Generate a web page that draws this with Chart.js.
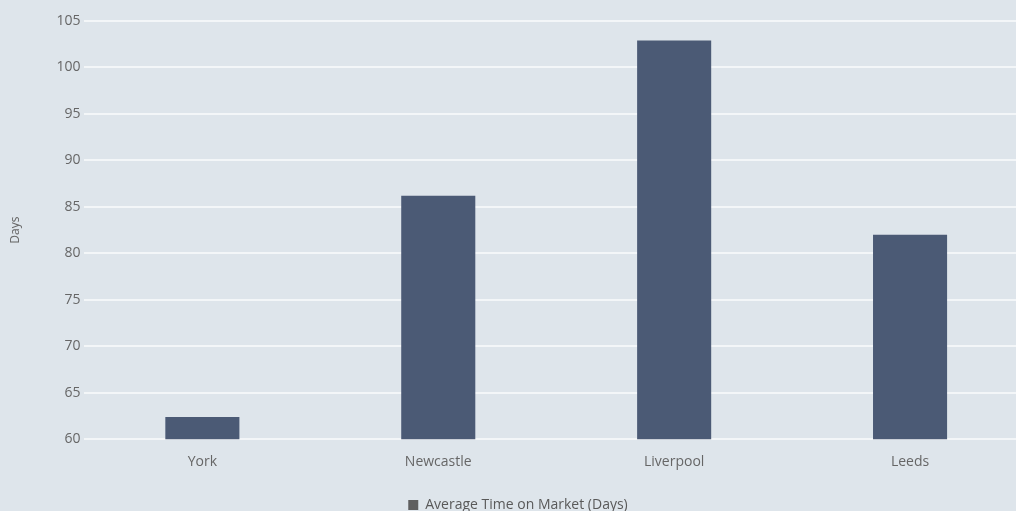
<!DOCTYPE html>
<html>
<head>
<meta charset="utf-8">
<script src="https://cdn.jsdelivr.net/npm/chart.js@4/dist/chart.umd.min.js"></script>
<style>
  html, body { margin: 0; padding: 0; background: #dee5eb; overflow: hidden; }
  #wrap { width: 1030px; height: 522px; }
</style>
</head>
<body>
<div id="wrap"><canvas id="marketChart" width="1030" height="522"></canvas></div>
<script>
// Dữ liệu biểu đồ
var cities = ["York", "Newcastle", "Liverpool", "Leeds"];
var avgDays = [62.4, 86.2, 102.9, 82.0];
var seriesName = "Average Time on Market (Days)";
var yTitle = "Days";

var ctx = document.getElementById("marketChart").getContext("2d");
Chart.defaults.font.family = "'Open Sans', sans-serif";
Chart.defaults.color = "#666666";

var myChart = new Chart(ctx, {
    type: "bar",
    data: {
        labels: cities,
        datasets: [{
            label: seriesName,
            data: avgDays,
            backgroundColor: "#4b5a75",
            borderWidth: 0,
            categoryPercentage: 1,
            barPercentage: 0.314
        }]
    },
    options: {
        responsive: false,
        animation: false,
        layout: { padding: { top: 21, right: 2, left: 8, bottom: 0 } },
        plugins: {
            legend: {
                position: "bottom",
                labels: {
                    boxWidth: 10,
                    boxHeight: 10,
                    padding: 6,
                    font: { size: 14 },
                    color: "#595959",
                    generateLabels: function (chart) {
                        // ô chú thích màu xám như bản gốc
                        return [{
                            text: seriesName,
                            fillStyle: "#5f5f5f",
                            strokeStyle: "#5f5f5f",
                            fontColor: "#595959",
                            lineWidth: 0,
                            datasetIndex: 0
                        }];
                    }
                }
            },
            tooltip: { enabled: false }
        },
        scales: {
            x: {
                grid: { display: false, drawTicks: false },
                border: { display: false },
                ticks: { font: { size: 14 }, color: "#666666", padding: 14 },
                afterFit: function (scale) {
                    scale.height += 8; // khoảng trống trên chú thích
                }
            },
            y: {
                min: 60,
                max: 105,
                ticks: { stepSize: 5, font: { size: 14 }, color: "#666666", padding: 4 },
                grid: { color: "#f3f6f8", lineWidth: 2, drawTicks: false },
                border: { display: false },
                title: { display: true, text: yTitle, font: { size: 12 }, color: "#666666", padding: { top: 0, bottom: 30 } }
            }
        }
    }
});
</script>
</body>
</html>
